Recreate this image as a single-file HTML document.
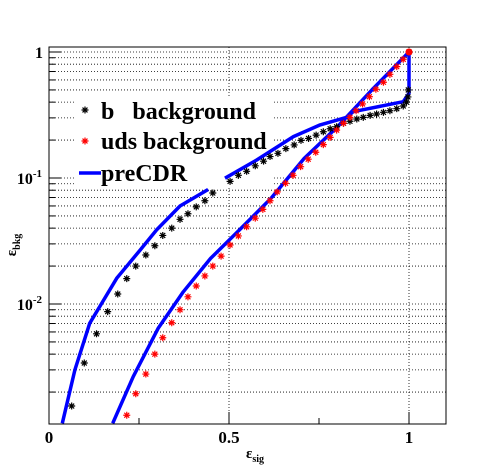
<!DOCTYPE html>
<html><head><meta charset="utf-8"><style>
body{margin:0;background:#fff}
svg{display:block;font-family:"Liberation Serif",serif}
</style></head><body>
<svg id="chart" width="496" height="472">
<rect width="496" height="472" fill="#fff"/>
<g id="grid"></g>
<rect x="74" y="97" width="198" height="90" fill="#fff"/>
<g id="marks"></g>
<rect x="49" y="47" width="397" height="377" fill="none" stroke="#000" stroke-width="1"/>
<g id="axes"></g>
<g id="legend" font-weight="bold" font-size="24">
<text x="101" y="119" xml:space="preserve" style="white-space:pre">b   background</text>
<text x="101" y="149">uds background</text>
<line x1="79" y1="173" x2="101" y2="173" stroke="#0000ff" stroke-width="3.5"/>
<text x="101" y="181">preCDR</text>
</g>
<text x="255" y="458" font-size="15" font-weight="bold" text-anchor="middle">ε<tspan font-size="10" dy="4">sig</tspan></text>
<text transform="translate(16,245) rotate(-90)" font-size="15" font-weight="bold" text-anchor="middle">ε<tspan font-size="10" dy="4">bkg</tspan></text>
</svg>
<script>
const bX=[0.063,0.098,0.132,0.163,0.191,0.216,0.241,0.269,0.294,0.316,0.341,0.364,0.386,0.409,0.433,0.455,0.503,0.526,0.549,0.573,0.596,0.614,0.636,0.658,0.681,0.700,0.721,0.742,0.762,0.781,0.799,0.818,0.836,0.855,0.873,0.892,0.910,0.929,0.947,0.966,0.984,0.993,0.997,0.998,1.0];
const bY=[0.00155,0.0034,0.0058,0.0087,0.012,0.0159,0.020,0.0245,0.029,0.035,0.040,0.047,0.052,0.059,0.066,0.076,0.094,0.105,0.113,0.125,0.136,0.148,0.157,0.171,0.183,0.199,0.206,0.219,0.233,0.246,0.255,0.272,0.282,0.294,0.303,0.314,0.322,0.332,0.342,0.355,0.373,0.40,0.44,0.50,1.0];
const udsX=[0.216,0.241,0.269,0.294,0.316,0.341,0.364,0.386,0.409,0.433,0.455,0.478,0.503,0.526,0.549,0.573,0.594,0.614,0.634,0.657,0.678,0.699,0.720,0.741,0.762,0.781,0.799,0.818,0.836,0.853,0.871,0.890,0.908,0.929,0.947,0.966,0.984,1.0];
const udsY=[0.00131,0.00194,0.00278,0.0040,0.0054,0.0071,0.0090,0.0114,0.0139,0.0167,0.020,0.024,0.0294,0.0347,0.041,0.048,0.0564,0.066,0.0776,0.0908,0.105,0.123,0.141,0.160,0.184,0.210,0.240,0.272,0.303,0.342,0.387,0.442,0.506,0.575,0.665,0.765,0.875,1.0];
const preBX1=[0.037,0.072,0.113,0.146,0.188,0.253,0.299,0.364,0.442];
const preBY1=[0.00113,0.003,0.00703,0.0101,0.016,0.0268,0.0387,0.060,0.081];
const preBX2=[0.489,0.577,0.679,0.753,0.827,0.845,0.984,1.0,1.0,1.0];
const preBY2=[0.0996,0.139,0.213,0.264,0.303,0.336,0.403,0.47,0.765,1.0];
const preUX=[0.177,0.234,0.303,0.373,0.449,0.524,0.617,0.709,0.801,0.897,1.0];
const preUY=[0.00113,0.00265,0.0064,0.0125,0.023,0.0375,0.069,0.143,0.255,0.50,1.0];
const xTicks=[0,0.5,1];
const xTickLabels=["0","0.5","1"];

const X0=49,XU=360,Y1=52,DEC=126;
const sx=v=>X0+v*XU;
const sy=v=>Y1-Math.log10(v)*DEC;
const NS='http://www.w3.org/2000/svg';
function mk(tag,attrs,parent){const e=document.createElementNS(NS,tag);for(const k in attrs)e.setAttribute(k,attrs[k]);parent.appendChild(e);return e;}
const grid=document.getElementById('grid'),marks=document.getElementById('marks'),axes=document.getElementById('axes'),legend=document.getElementById('legend');

for(let p=-3;p<=0;p++){for(let m=1;m<=9;m++){const v=m*Math.pow(10,p);const y=sy(v);if(y<47||y>424)continue;
 const l=mk('line',{x1:49,x2:446,y1:y,y2:y,stroke:'#000','stroke-width':0.8,'stroke-dasharray':'1,2'},grid);
 
 
 const t=mk('line',{x1:49,x2:m===1?61:55,y1:y,y2:y,stroke:'#000'},axes);
 
 
}}
[0.5,1].forEach(v=>{const l=mk('line',{x1:sx(v),x2:sx(v),y1:47,y2:424,stroke:'#000','stroke-width':0.8,'stroke-dasharray':'1,2'},grid);
 
 });
for(let v=0;v<=1.1;v+=0.25){const t=mk('line',{x1:sx(v),x2:sx(v),y1:424,y2:(Math.abs(v*2-Math.round(v*2))<1e-6)?412:418,stroke:'#000'},axes);
 
 }
xTicks.forEach((v,i)=>{const t=mk('text',{x:sx(v),y:443,'font-size':17,'font-weight':'bold','text-anchor':'middle'},axes);t.textContent=xTickLabels[i];
 
 });
const yl=[[1,'1',null],[0.1,'10','-1'],[0.01,'10','-2']];
yl.forEach(a=>{const t=mk('text',{x:a[2]?42:43,y:sy(a[0])+6,'font-size':16,'font-weight':'bold','text-anchor':'end'},axes);
 
 
 t.textContent=a[1];if(a[2]){const s=mk('tspan',{'font-size':11,dy:-7},t);s.textContent=a[2];}});

function line(xs,ys,name){const d=xs.map((x,i)=>(i?'L':'M')+sx(x).toFixed(1)+','+Math.min(424,sy(ys[i])).toFixed(1)).join('');
 const p=mk('path',{d:d,fill:'none',stroke:'#0000ff','stroke-width':3.5,'stroke-linejoin':'round'},marks);
 
 }
line(preUX,preUY,'precdr-uds-line');
line(preBX1,preBY1,'precdr-b-line-low');
line(preBX2,preBY2,'precdr-b-line-high');
function star(cx,cy,col,parent,name){const r=3.5,d=r*0.707;
 const g=mk('path',{d:`M${cx-r},${cy}h${2*r}M${cx},${cy-r}v${2*r}M${cx-d},${cy-d}l${2*d},${2*d}M${cx-d},${cy+d}l${2*d},${-2*d}`,stroke:col,'stroke-width':1.2,fill:'none'},parent);
 
 }
bX.forEach((x,i)=>star(sx(x),sy(bY[i]),'#000',marks,'b-background-point'));
udsX.forEach((x,i)=>star(sx(x),sy(udsY[i]),'#ff0000',marks,'uds-background-point'));
const dot=mk('circle',{cx:sx(1),cy:sy(1),r:3.5,fill:'#ff0000'},marks);


star(85,110,'#000',legend,'legend-b-marker');
star(85,141,'#ff0000',legend,'legend-uds-marker');
</script>
</body></html>
